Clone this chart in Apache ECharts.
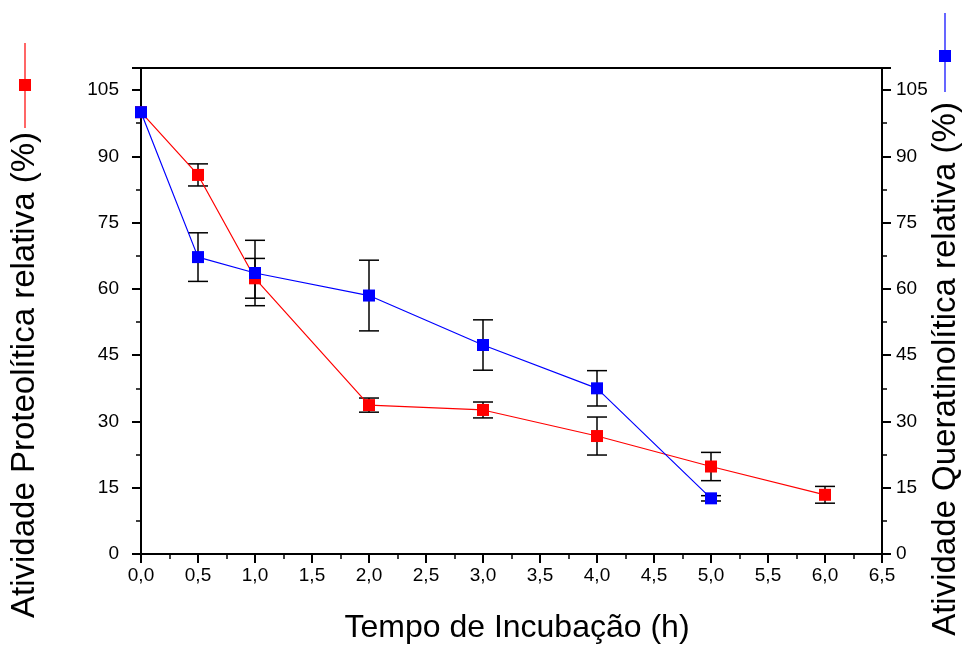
<!DOCTYPE html>
<html>
<head>
<meta charset="utf-8">
<script src="https://cdn.jsdelivr.net/npm/echarts@6/dist/echarts.min.js"></script>
<style>
  html, body { margin: 0; padding: 0; background: #fff; }
  #chart { width: 965px; height: 645px; }
</style>
</head>
<body>
<div id="chart"></div>
<script>
// dados
const tempo = [0, 0.5, 1, 2, 3, 4, 5, 6]
const proteolitica = [100, 85.8, 62.4, 33.7, 32.6, 26.7, 19.8, 13.4]
const erroProteo = [0, 2.5, 4.5, 1.6, 1.8, 4.3, 3.2, 1.9]

const tempoQuerat = [0, 0.5, 1, 2, 3, 4, 5]
const queratinolitica = [100, 67.2, 63.6, 58.5, 47.3, 37.5, 12.6]
const erroQuerat = [0, 5.5, 7.4, 8, 5.7, 4, 0.6]

const yTicks = [0, 15, 30, 45, 60, 75, 90, 105]

const font = 'Liberation Sans, Arial, sans-serif'
const chart = echarts.init(document.getElementById('chart'))

function errorBars(xs, ys, errs) {
  return xs.map((x, i) => [x, ys[i] - errs[i], ys[i] + errs[i]])
}

function renderError(params, api) {
  const x = api.value(0)
  const lo = api.coord([x, api.value(1)])
  const hi = api.coord([x, api.value(2)])
  if (Math.abs(hi[1] - lo[1]) < 0.5) return null
  const w = 10
  const style = { stroke: '#000', lineWidth: 1.5 }
  return {
    type: 'group',
    children: [
      { type: 'line', shape: { x1: lo[0], y1: lo[1], x2: hi[0], y2: hi[1] }, style },
      { type: 'line', shape: { x1: lo[0] - w, y1: lo[1], x2: lo[0] + w, y2: lo[1] }, style },
      { type: 'line', shape: { x1: hi[0] - w, y1: hi[1], x2: hi[0] + w, y2: hi[1] }, style }
    ]
  }
}

const yAxisBase = {
  type: 'value',
  min: 0,
  max: 110,
  interval: 15,
  axisLine: { show: true, lineStyle: { color: '#000', width: 2 } },
  axisTick: { show: true, inside: false, length: 9, lineStyle: { color: '#000', width: 2 } },
  minorTick: { show: true, splitNumber: 2, length: 5, lineStyle: { color: '#000', width: 1.5 } },
  splitLine: { show: false },
  axisLabel: {
    showMaxLabel: false,
    color: '#000',
    fontFamily: font,
    fontSize: 19,
    formatter: v => yTicks.includes(v) ? String(v) : ''
  }
}

const option = {
  animation: false,
  backgroundColor: '#fff',
  grid: {
    left: 141, right: 83, top: 68, bottom: 91,
    show: true, borderColor: '#000', borderWidth: 2, backgroundColor: 'transparent'
  },
  xAxis: {
    type: 'value',
    min: 0,
    max: 6.5,
    interval: 0.5,
    axisLine: { show: true, lineStyle: { color: '#000', width: 2 } },
    axisTick: { show: true, inside: false, length: 9, lineStyle: { color: '#000', width: 2 } },
    minorTick: { show: true, splitNumber: 2, length: 5, lineStyle: { color: '#000', width: 1.5 } },
    splitLine: { show: false },
    axisLabel: {
      color: '#000',
      fontFamily: font,
      fontSize: 19,
      margin: 12,
      formatter: v => v.toFixed(1).replace('.', ',')
    }
  },
  yAxis: [
    Object.assign({}, yAxisBase, { position: 'left', axisLabel: Object.assign({}, yAxisBase.axisLabel, { margin: 22 }) }),
    Object.assign({}, yAxisBase, { position: 'right', axisLabel: Object.assign({}, yAxisBase.axisLabel, { margin: 14 }) })
  ],
  series: [
    {
      name: 'Proteolítica',
      type: 'line',
      yAxisIndex: 0,
      data: tempo.map((x, i) => [x, proteolitica[i]]),
      symbol: 'rect',
      symbolSize: 12,
      itemStyle: { color: '#ff0000' },
      lineStyle: { color: '#ff0000', width: 1.2 },
      z: 3
    },
    {
      name: 'Queratinolítica',
      type: 'line',
      yAxisIndex: 1,
      data: tempoQuerat.map((x, i) => [x, queratinolitica[i]]),
      symbol: 'rect',
      symbolSize: 12,
      itemStyle: { color: '#0000ff' },
      lineStyle: { color: '#0000ff', width: 1.2 },
      z: 4
    },
    {
      type: 'custom',
      yAxisIndex: 0,
      renderItem: renderError,
      data: errorBars(tempo, proteolitica, erroProteo),
      encode: { x: 0, y: [1, 2] },
      z: 2
    },
    {
      type: 'custom',
      yAxisIndex: 1,
      renderItem: renderError,
      data: errorBars(tempoQuerat, queratinolitica, erroQuerat),
      encode: { x: 0, y: [1, 2] },
      z: 2
    }
  ],
  graphic: [
    // eixo esquerdo: título e símbolo
    { type: 'line', shape: { x1: 25, y1: 43, x2: 25, y2: 128 }, style: { stroke: '#ff0000', lineWidth: 1.2 } },
    { type: 'rect', shape: { x: 19, y: 79, width: 12, height: 12 }, style: { fill: '#ff0000' } },
    {
      type: 'text', x: 25, y: 375, rotation: Math.PI / 2,
      style: {
        text: 'Atividade Proteolítica relativa (%)', fill: '#000',
        font: '33px ' + font, textAlign: 'center', textVerticalAlign: 'middle'
      }
    },
    // eixo direito: título e símbolo
    { type: 'line', shape: { x1: 945, y1: 13, x2: 945, y2: 92 }, style: { stroke: '#0000ff', lineWidth: 1.2 } },
    { type: 'rect', shape: { x: 939, y: 50, width: 12, height: 12 }, style: { fill: '#0000ff' } },
    {
      type: 'text', x: 946, y: 369, rotation: Math.PI / 2,
      style: {
        text: 'Atividade Queratinolítica relativa (%)', fill: '#000',
        font: '33px ' + font, textAlign: 'center', textVerticalAlign: 'middle'
      }
    },
    {
      type: 'text', x: 517, y: 628,
      style: {
        text: 'Tempo de Incubação (h)', fill: '#000',
        font: '32px ' + font, textAlign: 'center', textVerticalAlign: 'middle'
      }
    }
  ]
}

chart.setOption(option)
</script>
</body>
</html>
